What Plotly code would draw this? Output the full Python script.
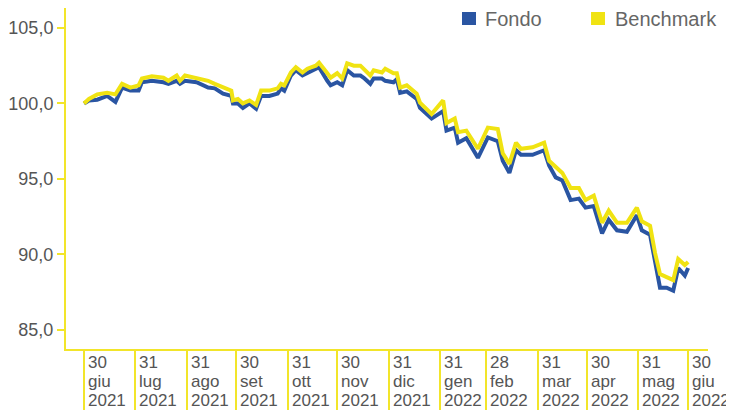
import plotly.graph_objects as go

dates = [
    "2021-06-30", "2021-07-03", "2021-07-08", "2021-07-14", "2021-07-19", "2021-07-23",
    "2021-07-28", "2021-08-02", "2021-08-04", "2021-08-10", "2021-08-17", "2021-08-20",
    "2021-08-25", "2021-08-27", "2021-08-30", "2021-09-06", "2021-09-13", "2021-09-17",
    "2021-09-22", "2021-09-27", "2021-09-28", "2021-10-01", "2021-10-04", "2021-10-08",
    "2021-10-12", "2021-10-15", "2021-10-20", "2021-10-25", "2021-10-27", "2021-10-29",
    "2021-11-02", "2021-11-05", "2021-11-09", "2021-11-12", "2021-11-17", "2021-11-19",
    "2021-11-24", "2021-11-26", "2021-11-30", "2021-12-03", "2021-12-06", "2021-12-10",
    "2021-12-14", "2021-12-16", "2021-12-20", "2021-12-22", "2021-12-27", "2021-12-29",
    "2022-01-03", "2022-01-05", "2022-01-07", "2022-01-11", "2022-01-17", "2022-01-19",
    "2022-01-26", "2022-02-02", "2022-02-04", "2022-02-09", "2022-02-11", "2022-02-16",
    "2022-02-23", "2022-03-01", "2022-03-07", "2022-03-10", "2022-03-14", "2022-03-18",
    "2022-03-21", "2022-03-28", "2022-04-04", "2022-04-07", "2022-04-11", "2022-04-15",
    "2022-04-20", "2022-04-25", "2022-04-29", "2022-05-04", "2022-05-09", "2022-05-13",
    "2022-05-18", "2022-05-24", "2022-05-30", "2022-06-02", "2022-06-07", "2022-06-10",
    "2022-06-13", "2022-06-17", "2022-06-21", "2022-06-24", "2022-06-28", "2022-06-30",
]

fondo = [
    100.00, 100.20, 100.25, 100.50, 100.10, 101.05,
    100.85, 100.85, 101.40, 101.50, 101.40, 101.30,
    101.50, 101.30, 101.50, 101.40, 101.05, 101.00,
    100.65, 100.50, 100.00, 100.00, 99.70, 100.00,
    99.65, 100.50, 100.50, 100.65, 101.00, 100.85,
    101.85, 102.20, 101.85, 102.00, 102.30, 102.40,
    101.50, 101.20, 101.40, 101.20, 102.20, 101.85,
    101.85, 101.70, 101.30, 101.65, 101.65, 101.50,
    101.40, 101.60, 100.70, 100.80, 100.30, 99.70,
    99.00, 99.50, 98.20, 98.40, 97.40, 97.70,
    96.40, 97.75, 97.50, 96.20, 95.40, 96.90,
    96.60, 96.60, 96.90, 95.90, 95.10, 94.90,
    93.60, 93.70, 93.10, 93.20, 91.40, 92.30,
    91.60, 91.50, 92.60, 91.60, 91.30, 89.60,
    87.80, 87.80, 87.60, 89.10, 88.60, 89.10,
]

benchmark = [
    100.00, 100.30, 100.60, 100.70, 100.60, 101.30,
    101.05, 101.20, 101.65, 101.80, 101.70, 101.50,
    101.85, 101.50, 101.85, 101.70, 101.50, 101.30,
    101.05, 100.85, 100.20, 100.30, 100.00, 100.20,
    99.90, 100.85, 100.85, 101.00, 101.30, 101.20,
    102.05, 102.40, 102.05, 102.30, 102.50, 102.70,
    102.00, 101.70, 102.00, 101.65, 102.65, 102.50,
    102.50, 102.30, 101.85, 102.20, 102.05, 102.30,
    102.00, 102.00, 101.05, 101.20, 100.65, 100.05,
    99.30, 100.20, 98.70, 99.00, 98.10, 98.20,
    97.00, 98.40, 98.30, 96.70, 96.00, 97.40,
    97.00, 97.10, 97.40, 96.20, 95.80, 95.40,
    94.40, 94.40, 93.60, 93.90, 92.10, 92.90,
    92.10, 92.10, 93.10, 92.20, 91.90, 90.10,
    88.70, 88.50, 88.30, 89.70, 89.30, 89.50,
]

tick_dates = ["2021-06-30", "2021-07-31", "2021-08-31", "2021-09-30", "2021-10-31",
              "2021-11-30", "2021-12-31", "2022-01-31", "2022-02-28", "2022-03-31",
              "2022-04-30", "2022-05-31", "2022-06-30"]
tick_days = ["30", "31", "31", "30", "31", "30", "31", "31", "28", "31", "30", "31", "30"]
tick_months = ["giu", "lug", "ago", "set", "ott", "nov", "dic", "gen", "feb", "mar", "apr", "mag", "giu"]
tick_years = ["2021", "2021", "2021", "2021", "2021", "2021", "2021", "2022", "2022", "2022",
              "2022", "2022", "2022"]

y_ticks = [85, 90, 95, 100, 105]

legend_names = ["Fondo", "Benchmark"]

BLUE = "#2A55A2"
YELLOW = "#F0E312"
AXIS = "#F2E52A"
TXT = "#555555"
FONT = "Liberation Sans, Arial, sans-serif"
legend_colors = [BLUE, YELLOW]

fig = go.Figure()
fig.add_trace(go.Scatter(x=dates, y=fondo, mode="lines", name=legend_names[0],
                         line=dict(color=BLUE, width=4), showlegend=False))
fig.add_trace(go.Scatter(x=dates, y=benchmark, mode="lines", name=legend_names[1],
                         line=dict(color=YELLOW, width=4), showlegend=False))

annotations = []
rows = [(tick_days, -2), (tick_months, -21), (tick_years, -40)]
for labels, ysh in rows:
    for d, t in zip(tick_dates, labels):
        annotations.append(dict(
            x=d, y=0, xref="x", yref="paper", text=t, showarrow=False,
            xanchor="left", yanchor="top", xshift=2, yshift=ysh,
            font=dict(family=FONT, size=17, color=TXT), align="left"))

# legend drawn as key squares + labels, placed at the top right of the plot
shapes = []
legend_sq_x = [0.6168, 0.8178]
legend_txt_x = [0.6526, 0.8551]
for name, col, sx, tx in zip(legend_names, legend_colors, legend_sq_x, legend_txt_x):
    shapes.append(dict(type="rect", xref="paper", yref="paper",
                       x0=sx, x1=sx + 0.0218, y0=0.9501, y1=0.9883,
                       fillcolor=col, line=dict(width=0)))
    annotations.append(dict(x=tx, y=0.9692, xref="paper", yref="paper", text=name,
                            showarrow=False, xanchor="left", yanchor="middle", xshift=-2,
                            font=dict(family=FONT, size=20, color="#666666")))

# the page body adds an 8px offset, so the figure is 8px smaller and margins compensate
fig.update_layout(
    width=726, height=402,
    margin=dict(l=58, r=26, t=0, b=61),
    paper_bgcolor="white", plot_bgcolor="white",
    separators=",.",
    font=dict(family=FONT, color=TXT),
    showlegend=False,
    annotations=annotations,
    shapes=shapes,
)
fig.update_xaxes(
    type="date", range=["2021-06-19 03:00", "2022-07-12"], automargin=False,
    showgrid=False, zeroline=False, showline=True, linecolor=AXIS, linewidth=2,
    tickmode="array", tickvals=tick_dates, showticklabels=False,
    ticks="outside", ticklen=62, tickwidth=2, tickcolor=AXIS,
)
fig.update_yaxes(
    range=[83.74, 106.32], automargin=False, showgrid=False, zeroline=False,
    showline=True, linecolor=AXIS, linewidth=2,
    tickmode="array", tickvals=y_ticks, tickformat=".1f",
    ticks="outside", ticklen=7, tickwidth=2, tickcolor=AXIS,
    tickfont=dict(family=FONT, size=18, color=TXT),
)

fig.write_html("out.html")
